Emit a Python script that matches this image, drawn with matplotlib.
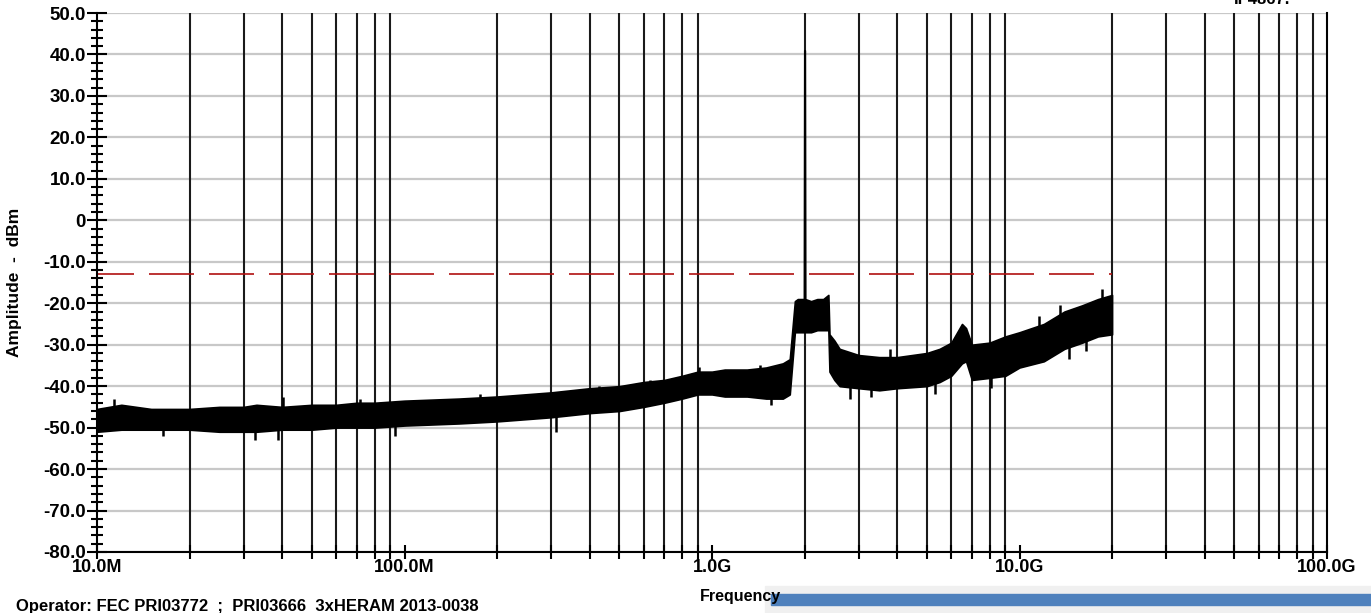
import matplotlib
matplotlib.use("Agg")
import matplotlib.pyplot as plt
import numpy as np
from matplotlib.ticker import FixedLocator, NullFormatter, FixedFormatter

plt.rcParams['font.family'] = ['Liberation Sans', 'DejaVu Sans']
plt.rcParams['font.weight'] = 'bold'

# ---- data ----
freq_hz = [10e6, 12e6, 15e6, 20e6, 25e6, 30e6, 33e6, 40e6, 50e6, 60e6, 70e6, 80e6,
           100e6, 150e6, 200e6, 300e6, 400e6, 500e6, 600e6, 700e6, 800e6, 900e6,
           1.0e9, 1.1e9, 1.3e9, 1.5e9, 1.7e9, 1.79e9, 1.86e9, 1.9e9, 1.99e9, 1.996e9,
           2.004e9, 2.01e9, 2.1e9, 2.2e9, 2.3e9, 2.39e9, 2.41e9, 2.5e9, 2.6e9, 3.0e9,
           3.5e9, 4.0e9, 5.0e9, 5.5e9, 6.0e9, 6.5e9, 6.7e9, 7.0e9, 8.0e9, 9.0e9,
           10e9, 12e9, 14e9, 16e9, 18e9, 20e9]
upper_dbm = [-45.5, -44.5, -45.5, -45.5, -45.0, -45.0, -44.5, -45.0, -44.5, -44.5, -44.0, -44.0,
             -43.5, -43.0, -42.5, -41.5, -40.5, -40.0, -39.0, -38.5, -37.5, -36.5,
             -36.5, -36.0, -36.0, -35.5, -34.5, -33.5, -19.5, -19.0, -19.0, 41.0,
             41.0, -19.0, -19.5, -19.0, -19.0, -18.0, -27.5, -29.0, -31.0, -32.5,
             -33.0, -33.0, -32.0, -31.0, -29.5, -25.0, -26.0, -30.0, -29.5, -28.0,
             -27.0, -25.0, -22.0, -20.5, -19.0, -18.0]
lower_dbm = [-51.0, -50.5, -50.5, -50.5, -51.0, -51.0, -51.0, -50.5, -50.5, -50.0, -50.0, -50.0,
             -49.5, -49.0, -48.5, -47.5, -46.5, -46.0, -45.0, -44.0, -43.0, -42.0,
             -42.0, -42.5, -42.5, -43.0, -43.0, -42.0, -27.0, -27.0, -27.0, -27.0,
             -27.0, -27.0, -27.0, -26.5, -26.5, -26.5, -36.5, -38.5, -40.0, -40.5,
             -41.0, -40.5, -40.0, -39.0, -37.5, -34.5, -34.0, -38.5, -38.0, -37.5,
             -35.5, -34.0, -31.0, -29.5, -28.0, -27.5]

# isolated noise spikes visible on the trace (frequency, tip level in dBm)
spike_freq_hz = [11.4e6, 16.4e6, 32.6e6, 38.8e6, 40.2e6, 71.7e6, 93e6, 176e6, 310e6,
                 430e6, 630e6, 910e6, 1.43e9, 1.55e9, 2.8e9, 3.3e9, 3.8e9, 5.3e9,
                 8.1e9, 11.6e9, 13.5e9, 14.5e9, 16.5e9, 18.5e9]
spike_tip_dbm = [-43.0, -52.0, -53.0, -53.0, -42.5, -43.0, -52.0, -42.0, -51.0,
                 -40.0, -38.5, -35.5, -35.0, -44.5, -43.0, -42.5, -31.0, -42.0,
                 -40.5, -23.0, -20.5, -33.5, -31.5, -16.5]

limit_freqs = [10e6, 20e9]
limit_dbm = [-13.0, -13.0]

x_major = [1e7, 1e8, 1e9, 1e10, 1e11]
x_major_labels = ["10.0M", "100.0M", "1.0G", "10.0G", "100.0G"]
y_major = [50, 40, 30, 20, 10, 0, -10, -20, -30, -40, -50, -60, -70, -80]
y_major_labels = ["50.0", "40.0", "30.0", "20.0", "10.0", "0", "-10.0", "-20.0",
                  "-30.0", "-40.0", "-50.0", "-60.0", "-70.0", "-80.0"]

# ---- figure ----
W, H = 1371, 613
fig = plt.figure(figsize=(W / 100, H / 100), dpi=100)
ax = fig.add_axes([97 / W, 1 - 552 / H, (1327 - 97) / W, (552 - 13) / H])
ax.set_xscale('log')
ax.set_xlim(1e7, 1e11)
ax.set_ylim(-80, 50)

# grid: horizontal light gray at majors, vertical black at minor decade positions
for y in y_major:
    ax.axhline(y, color='#c8c8c8', lw=1.6, zorder=1)
x_minor = [m * 10 ** d for d in range(7, 11) for m in range(2, 10)]
for xm in x_minor:
    ax.axvline(xm, color='#1a1a1a', lw=1.5, zorder=1)

# trace envelope
ax.fill_between(freq_hz, lower_dbm, upper_dbm, color='black', lw=1.2,
                edgecolor='black', zorder=3)
# spikes: from band middle to the spike tip
lf = np.log10(freq_hz)
mid = (np.array(upper_dbm) + np.array(lower_dbm)) / 2
spike_base = np.interp(np.log10(spike_freq_hz), lf, mid)
ax.vlines(spike_freq_hz, spike_base, spike_tip_dbm, color='black', lw=1.8, zorder=3)

# limit line
ax.plot(limit_freqs, limit_dbm, color='#b01010', lw=1.2,
        ls=(4.8, (27, 9)), zorder=2)

# axes styling
ax.spines['top'].set_visible(False)
for s in ['left', 'bottom', 'right']:
    ax.spines[s].set_color('black')
    ax.spines[s].set_linewidth(1.5)
    ax.spines[s].set_zorder(4)

ax.xaxis.set_major_locator(FixedLocator(x_major))
ax.xaxis.set_major_formatter(FixedFormatter(x_major_labels))
ax.xaxis.set_minor_locator(FixedLocator(x_minor))
ax.xaxis.set_minor_formatter(NullFormatter())
ax.yaxis.set_major_locator(FixedLocator(y_major))
ax.yaxis.set_major_formatter(FixedFormatter(y_major_labels))
ax.yaxis.set_minor_locator(FixedLocator(list(range(-80, 51, 2))))

ax.tick_params(axis='y', which='major', direction='inout', length=14, width=1.5,
               labelsize=13.5, pad=1)
ax.tick_params(axis='y', which='minor', direction='inout', length=9, width=1.5)
ax.tick_params(axis='x', which='major', direction='inout', length=10, width=1.5,
               labelsize=13, pad=0)
ax.tick_params(axis='x', which='minor', direction='inout', length=10, width=1.5)
ax.tick_params(right=False, which='both')
for lab in ax.get_xticklabels() + ax.get_yticklabels():
    lab.set_fontweight('bold')

ax.set_ylabel("Amplitude  -  dBm", fontsize=12.5, fontweight='bold')
ax.yaxis.set_label_coords((22 - 97) / 1230, 0.5)

fig.text(740 / W, 1 - 597 / H, "Frequency", ha='center', va='center',
         fontsize=11.5, fontweight='bold')
fig.text(16 / W, 1 - 607 / H, "Operator: FEC PRI03772  ;  PRI03666  3xHERAM 2013-0038",
         ha='left', va='center', fontsize=12, fontweight='bold')
fig.text(1262 / W, 1 - 7 / H, "IF4867.", ha='center', va='bottom',
         fontsize=12, fontweight='bold')

# blue bar with gray background
fig.patches.append(plt.Rectangle((765 / W, 0), (W - 765) / W, 27 / H,
                                 transform=fig.transFigure, color='#f0f0f0', zorder=0))
fig.patches.append(plt.Rectangle((771 / W, 1 - 605 / H), (W - 771) / W, 11 / H,
                                 transform=fig.transFigure, color='#4f81bd', zorder=1))

fig.savefig("out.png", dpi=100)
